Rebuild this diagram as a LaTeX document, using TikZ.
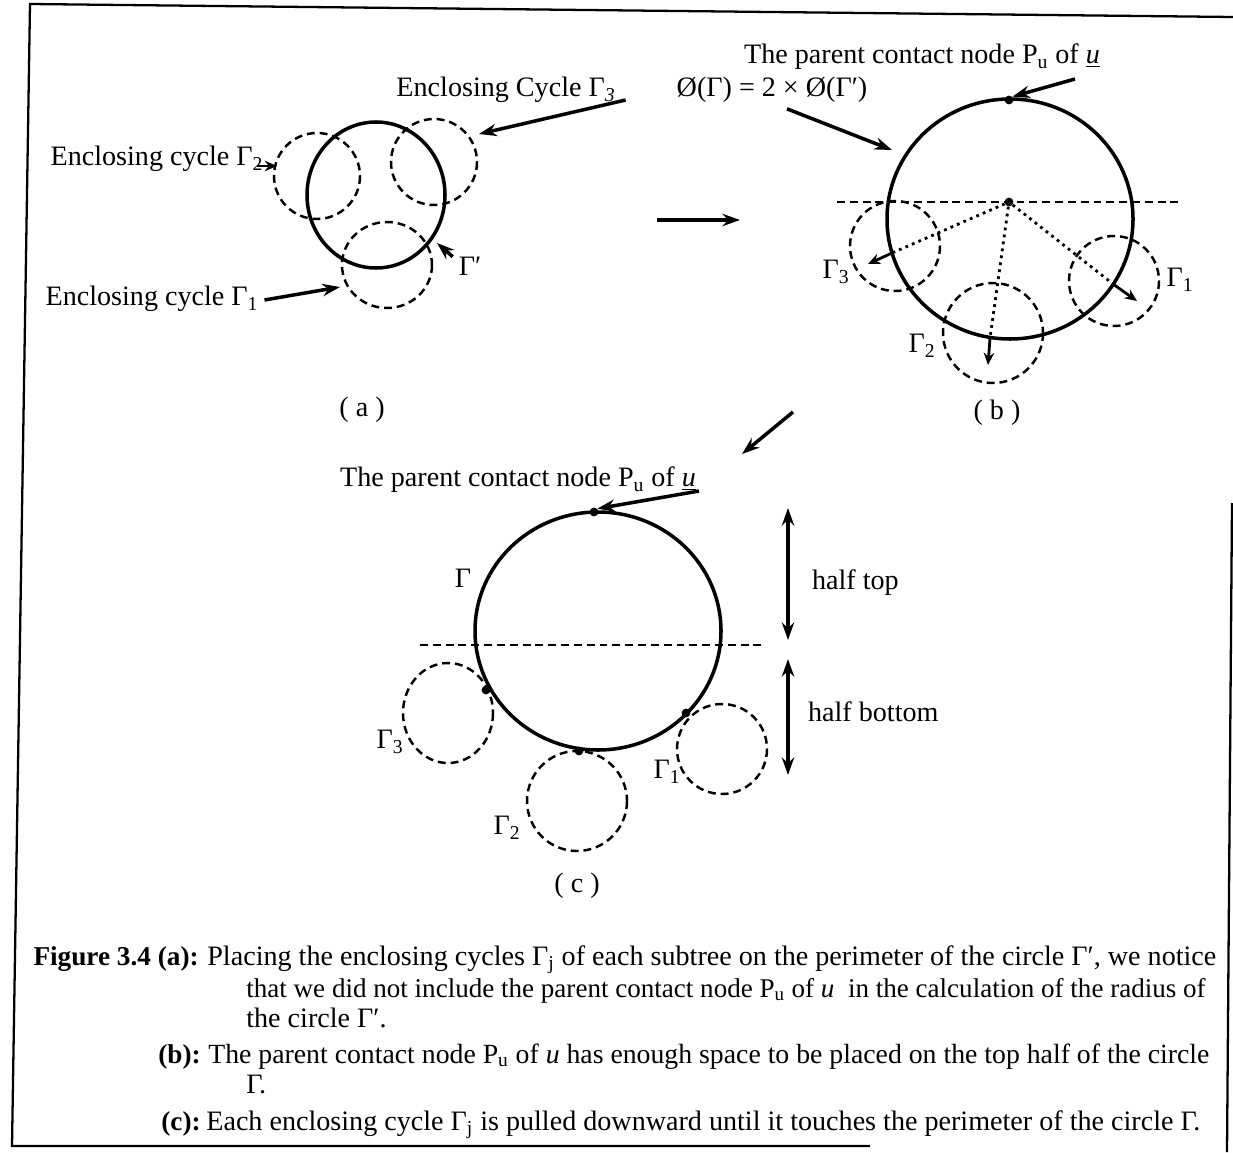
\documentclass[tikz,border=0pt]{standalone}
\usepackage{fontspec}
\setmainfont{Liberation Serif}
\usepackage{tikz}
\usetikzlibrary{arrows.meta,positioning,calc}

\begin{document}
\begin{tikzpicture}[
  x=0.02cm, y=-0.02cm,
  font=\fontsize{16}{18}\selectfont,
  lbl/.style={inner sep=1pt},
  ring/.style={line width=2pt},
  sub/.style={line width=1.4pt, dash pattern=on 4.5pt off 2.8pt},
  cut/.style={line width=1.4pt, dash pattern=on 4.5pt off 2.8pt},
  arr/.style={-{Stealth[length=10pt,width=7pt]}, line width=2pt},
  sarr/.style={-{Stealth[length=7pt,width=6pt]}, line width=1.6pt},
  dotarr/.style={line width=1.6pt, dash pattern=on 1.6pt off 2.4pt},
  pt/.style={circle, fill, inner sep=0pt, minimum size=5pt},
  capline/.style={anchor=base west, inner sep=0pt, font=\fontsize{16}{18}\selectfont},
  captag/.style={anchor=base east, inner sep=0pt, font=\fontsize{15.5}{18}\selectfont\bfseries}
]
\useasboundingbox (0,0) rectangle (1233,1152);

% frame
\draw[line width=1.3pt] (1233,17) -- (30,4) -- (12,1146) -- (870,1146);
\draw[line width=1.3pt] (1232,503) -- (1227,1152);

% (a)
\draw[ring] (376,195) ellipse [x radius=69, y radius=73];
\draw[sub] (317,176) circle (43);
\draw[sub] (434,162) circle (43);
\draw[sub] (387,265) ellipse [x radius=45, y radius=43];

\node[lbl] (encl3) at (506,90) {Enclosing Cycle Γ\textsubscript{\textit{3}}};
\node[lbl] (encl2) at (157,159) {Enclosing cycle Γ\textsubscript{2}};
\node[lbl] (encl1) at (152,299) {Enclosing cycle Γ\textsubscript{1}};
\node[lbl] (gprime) at (470,266) {Γ′};
\node (capa) at (362,410) {( a )};

\coordinate (tip3) at (479,134);
\coordinate (tip2) at (277,166);
\coordinate (tip1) at (340,287);
\coordinate (tipg) at (437,243);
\draw[arr] ($(encl3.east)+(8,10)$) -- (tip3);
\draw[sarr] ($(encl2.east)+(-8,7)$) -- (tip2);
\draw[arr] ($(encl1.east)+(4,1)$) -- (tip1);
\draw[arr] ($(gprime.north west)+(-4,2)$) -- (tipg);

\coordinate (ab1) at (657,220);
\coordinate (ab2) at (740,220);
\draw[arr] (ab1) -- (ab2);

% (b)
\draw[ring] (1010,219) ellipse [x radius=123, y radius=120];
\draw[cut] (837,202) -- (1183,202);
\draw[sub] (895,246) circle (45);
\draw[sub] (993,333) circle (50);
\draw[sub] (1114,281) circle (45);
\node[pt] (ctr) at (1009,202) {};
\node[pt] (pb) at (1009,100) {};

\coordinate (rim3) at (892,253);
\coordinate (rim2) at (990,338);
\coordinate (rim1) at (1113,284);
\coordinate (out3) at (868,264);
\coordinate (out2) at (988,365);
\coordinate (out1) at (1137,301);
\draw[dotarr] (ctr) -- (rim3);
\draw[dotarr] (ctr) -- (rim2);
\draw[dotarr] (ctr) -- (rim1);
\draw[sarr] (rim3) -- (out3);
\draw[sarr] (rim2) -- (out2);
\draw[sarr] (rim1) -- (out1);

\node[lbl] (gb3) at (836,272) {Γ\textsubscript{3}};
\node[lbl] (gb2) at (922,346) {Γ\textsubscript{2}};
\node[lbl] (gb1) at (1180,280) {Γ\textsubscript{1}};
\node[lbl] (parentb) at (922,57) {The parent contact node P\textsubscript{u} of \underline{\textit{u}}};
\node[lbl] (diam) at (772,90) {Ø(Γ) = 2 × Ø(Γ′)};
\draw[arr] ($(parentb.south east)+(-27,7)$) -- (pb.north east);
\draw[arr] ($(diam.south)+(15,4)$) -- (892,150);
\node (capb) at (997,413) {( b )};

\coordinate (bc1) at (793,412);
\coordinate (bc2) at (742,454);
\draw[arr] (bc1) -- (bc2);

% (c)
\draw[ring] (598,631) ellipse [x radius=123, y radius=119];
\draw[cut] (420,645) -- (766,645);
\draw[sub] (448,713) ellipse [x radius=45, y radius=50];
\draw[sub] (577,801) circle (50);
\draw[sub] (722,749) circle (45);
\node[pt] (pc) at (594,512) {};
\node[pt] (dc3) at (486,690) {};
\node[pt] (dc2) at (579,751) {};
\node[pt] (dc1) at (686,713) {};

\node[lbl] (gc) at (463,578) {Γ};
\node[lbl] (gc3) at (390,742) {Γ\textsubscript{3}};
\node[lbl] (gc2) at (507,828) {Γ\textsubscript{2}};
\node[lbl] (gc1) at (667,772) {Γ\textsubscript{1}};
\node[lbl] (parentc) at (518,480) {The parent contact node P\textsubscript{u} of \underline{\textit{u}}};
\draw[arr] ($(parentc.south east)+(1,-4)$) -- (pc.north east);

\coordinate (ht1) at (788,508);
\coordinate (ht2) at (788,640);
\coordinate (hb1) at (788,659);
\coordinate (hb2) at (788,775);
\draw[arr, {Stealth[length=10pt,width=7pt]}-{Stealth[length=10pt,width=7pt]}] (ht1) -- (ht2);
\draw[arr, {Stealth[length=10pt,width=7pt]}-{Stealth[length=10pt,width=7pt]}] (hb1) -- (hb2);
\node[lbl, anchor=west] (htop) at (810,583) {half top};
\node[lbl, anchor=west] (hbot) at (806,712) {half bottom};
\node (capc) at (577,886) {( c )};

% caption
\node[captag] (tag1) at (199,965) {Figure 3.4 (a):};
\node[captag] (tag2) at (201,1063) {(b):};
\node[captag] (tag3) at (201,1130) {(c):};
\node[capline] (cap1) at (207,965) {Placing the enclosing cycles Γ\textsubscript{j} of each subtree on the perimeter of the circle Γ′, we notice};
\node[capline, font=\fontsize{15.4}{18}\selectfont] (cap2) at (246,997) {that we did not include the parent contact node P\textsubscript{u} of \textit{u}\ \ in the calculation of the radius of};
\node[capline] (cap3) at (246,1027) {the circle Γ′.};
\node[capline, font=\fontsize{15.8}{18}\selectfont] (cap4) at (208,1063) {The parent contact node P\textsubscript{u} of \textit{u} has enough space to be placed on the top half of the circle};
\node[capline] (cap5) at (246,1093) {Γ.};
\node[capline] (cap6) at (206,1130) {Each enclosing cycle Γ\textsubscript{j} is pulled downward until it touches the perimeter of the circle Γ.};
\end{tikzpicture}
\end{document}
